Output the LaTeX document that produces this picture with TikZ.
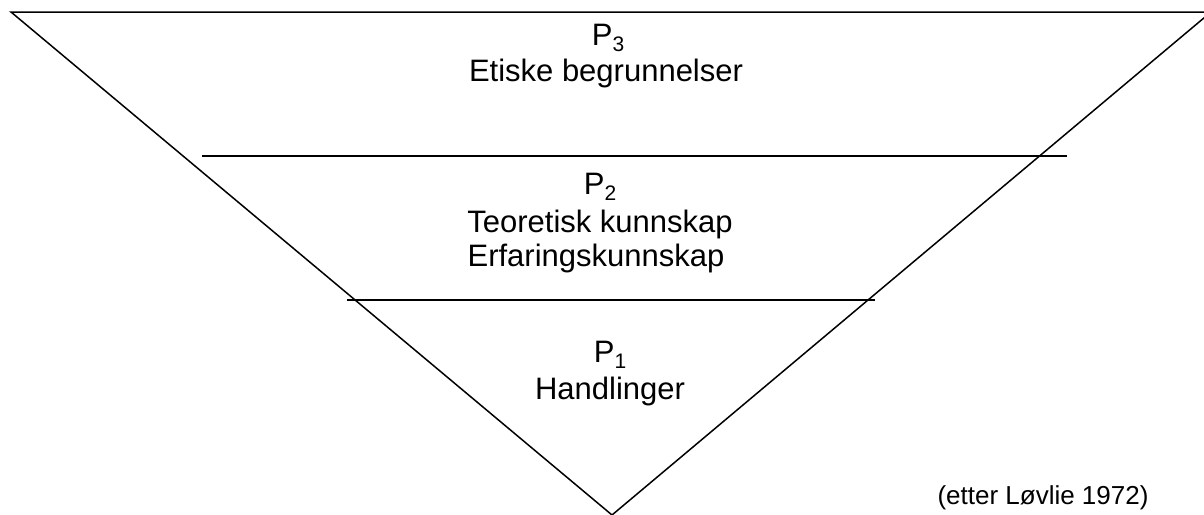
\documentclass[tikz,border=0pt]{standalone}
\usepackage{fontspec}
\setmainfont{Liberation Sans}
\newcommand{\mysub}[1]{\raisebox{-0.2em}{\fontsize{21}{21}\selectfont #1}}
\tikzset{
  edge/.style={line width=1.5pt, line join=miter},
  lbl/.style={anchor=base, inner sep=0pt, font=\fontsize{31}{36}\selectfont},
  src/.style={anchor=base, inner sep=0pt, font=\fontsize{26}{30}\selectfont}
}
\begin{document}
\begin{tikzpicture}[x=1pt,y=-1pt]
\useasboundingbox (0,0) rectangle (1204,514);
\coordinate (tl) at (11,12);
\coordinate (tr) at (1211,12);
\coordinate (ap) at (612,515);
\draw[edge] (tl) -- (tr) -- (ap) -- cycle;
\coordinate (a1) at (202,156);
\coordinate (b1) at (1067,156);
\coordinate (a2) at (347,300);
\coordinate (b2) at (875,300);
\draw[edge] (a1) -- (b1);
\draw[edge] (a2) -- (b2);
\node[lbl] (p3) at (608,45) {P\mysub{3}};
\node[lbl] (t3) at (606,81) {Etiske begrunnelser};
\node[lbl] (p2) at (600,194) {P\mysub{2}};
\node[lbl] (t2a) at (600,232) {Teoretisk kunnskap};
\node[lbl] (t2b) at (596,266) {Erfaringskunnskap};
\node[lbl] (p1) at (610,362) {P\mysub{1}};
\node[lbl] (t1) at (610,399) {Handlinger};
\node[src] (src) at (1043,504) {(etter Løvlie 1972)};
\end{tikzpicture}
\end{document}
